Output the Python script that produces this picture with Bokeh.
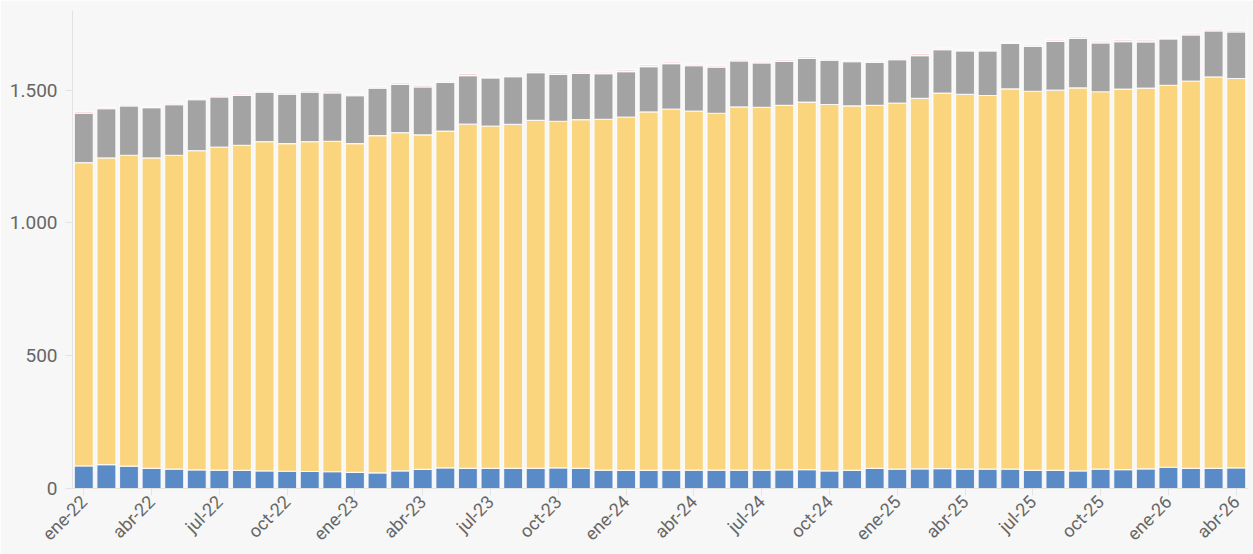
from bokeh.plotting import figure
from bokeh.models import Range1d, FixedTicker, CustomJSTickFormatter, ColumnDataSource
from bokeh.embed import file_html
from bokeh.resources import INLINE

# ---- data ----
month_names = ["ene", "feb", "mar", "abr", "may", "jun", "jul", "ago", "sep", "oct", "nov", "dic"]
years = ["22", "23", "24", "25", "26"]
n_months = 52

serie_azul = [85, 90, 84, 76, 73, 70, 69, 68, 66, 65, 64, 63, 61, 59, 66,
              72, 78, 76, 76, 76, 76, 78, 76, 69, 68, 68, 69, 69, 69, 69, 69, 70, 71,
              66, 68, 76, 73, 74, 75, 73, 73, 73, 68, 68, 66, 73, 71, 74, 80, 76, 76, 78]
tope_amarillo = [1227, 1245, 1255, 1245, 1255, 1272, 1286, 1292, 1306, 1299, 1306, 1307, 1299, 1329, 1340,
                 1332, 1346, 1372, 1365, 1371, 1386, 1383, 1389, 1390, 1399, 1418, 1429, 1421, 1413, 1437,
                 1435, 1443, 1455, 1446, 1441, 1443, 1451, 1469, 1489, 1484, 1480, 1505, 1496, 1500, 1509,
                 1494, 1504, 1508, 1518, 1534, 1550, 1544]
tope_gris = [1413, 1430, 1441, 1434, 1445, 1464, 1475, 1480, 1493, 1485, 1493, 1490, 1479, 1508, 1522,
             1512, 1529, 1555, 1546, 1551, 1566, 1559, 1563, 1562, 1570, 1589, 1600, 1592, 1587, 1610,
             1603, 1608, 1620, 1613, 1607, 1605, 1615, 1630, 1653, 1648, 1648, 1676, 1665, 1684, 1695,
             1678, 1683, 1682, 1693, 1708, 1723, 1719]
serie_rosa = [7, 5, 6, 5, 6, 5, 6, 6, 5, 7, 6, 7, 5, 5, 7, 7, 6, 8, 5, 6, 6, 7, 6, 6, 7, 7,
              6, 6, 6, 7, 6, 7, 7, 6, 5, 5, 6, 8, 5, 5, 5, 5, 6, 6, 7, 7, 7, 7, 5, 7, 7, 6]

serie_amarilla = [t - b for t, b in zip(tope_amarillo, serie_azul)]
serie_gris = [g - t for g, t in zip(tope_gris, tope_amarillo)]

labels = []
for y in years:
    for m in month_names:
        labels.append(f"{m}-{y}")
labels = labels[:n_months]

y_ticks = [0, 500, 1000, 1500]
colors = ["#5b8bc7", "#fbd57d", "#a3a3a3", "#f8d8da"]

src = ColumnDataSource(dict(
    x=list(range(n_months)),
    azul=serie_azul,
    amarilla=serie_amarilla,
    gris=serie_gris,
    rosa=serie_rosa,
))

BG = "#f7f7f7"
p = figure(width=1253, height=554, output_backend="svg", toolbar_location=None,
           x_range=Range1d(-0.5, n_months - 0.5), y_range=Range1d(0, 1800),
           min_border_left=72, min_border_right=6, min_border_top=10, min_border_bottom=64,
           background_fill_color=BG, border_fill_color=BG)
p.outline_line_color = None
p.xgrid.visible = False
p.ygrid.visible = False

p.vbar_stack(["azul", "amarilla", "gris", "rosa"], x="x", width=0.84, color=colors,
             source=src, line_color="white", line_width=1.2, line_alpha=0.8)

for ax in (p.xaxis[0], p.yaxis[0]):
    ax.axis_line_color = "#e3e3e3"
    ax.major_tick_line_color = "#e3e3e3"
    ax.major_tick_out = 7
    ax.major_tick_in = 0
    ax.minor_tick_line_color = None
    ax.major_label_text_font = "Roboto"
    ax.major_label_text_color = "#666666"

p.yaxis.major_label_text_font_size = "19px"
p.xaxis.major_label_text_font_size = "18px"

p.xaxis.ticker = FixedTicker(ticks=list(range(0, n_months, 3)))
p.xaxis.formatter = CustomJSTickFormatter(args=dict(labels=labels),
                                          code="const i = Math.round(tick); return labels[i] || '';")
p.xaxis.major_label_orientation = 0.785398
p.xaxis.major_label_standoff = 3

p.yaxis.ticker = FixedTicker(ticks=y_ticks)
p.yaxis.formatter = CustomJSTickFormatter(
    code="return Math.round(tick).toString().replace(/\\B(?=(\\d{3})+(?!\\d))/g, '.');")
p.yaxis.major_label_standoff = 8

html = file_html(p, INLINE)
html = html.replace("<body>", '<body style="background:#f7f7f7">', 1)
open("out.html", "w").write(html)
